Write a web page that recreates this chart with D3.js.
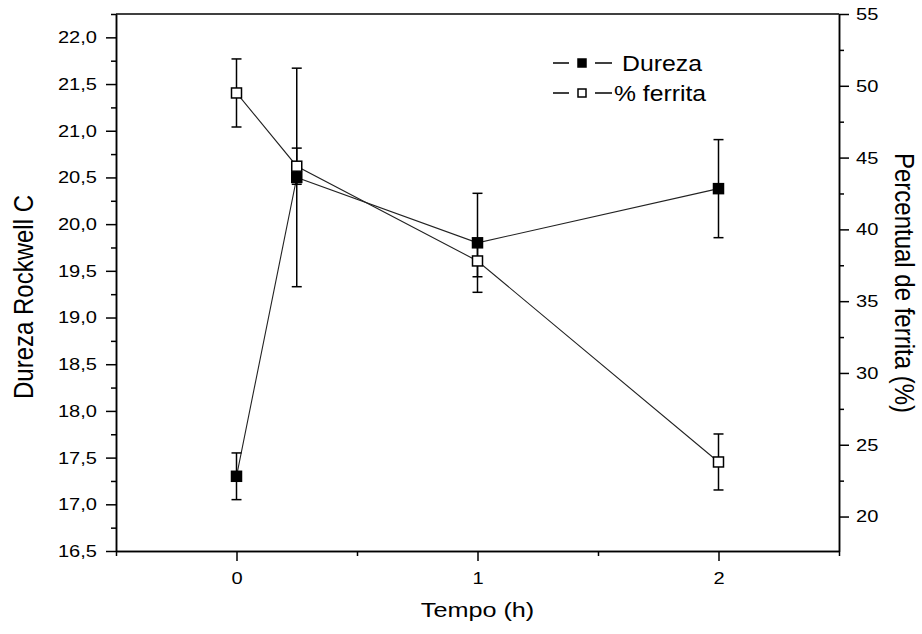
<!DOCTYPE html>
<html>
<head>
<meta charset="utf-8">
<script src="https://cdn.jsdelivr.net/npm/d3@7"></script>
<style>
  body { margin: 0; background: #fff; }
  text { font-family: Arial, "Liberation Sans", sans-serif; fill: #000; }
</style>
</head>
<body>
<script>
// dados
var tempo = [0, 0.25, 1, 2];
var dureza = [17.3, 20.5, 19.8, 20.38];
var durezaErr = [0.25, 1.17, 0.53, 0.525];
var ferrita = [49.5, 44.4, 37.8, 23.8];
var ferritaErr = [2.37, 1.26, 1.1, 1.95];

var xTicks = [0, 1, 2];
var xMinor = [-0.5, 0.5, 1.5, 2.5];
var yLeftTicks = [16.5, 17, 17.5, 18, 18.5, 19, 19.5, 20, 20.5, 21, 21.5, 22];
var yLeftMinor = [16.75, 17.25, 17.75, 18.25, 18.75, 19.25, 19.75, 20.25, 20.75, 21.25, 21.75, 22.25];
var yRightTicks = [20, 25, 30, 35, 40, 45, 50, 55];
var yRightMinor = [17.5, 22.5, 27.5, 32.5, 37.5, 42.5, 47.5, 52.5];

var _w = 922, _h = 634;
var pLeft = 116, pRight = 839, pTop = 14, pBottom = 551;

var svg = d3.select('body')
            .append('svg')
            .attr('width', _w)
            .attr('height', _h);

var x = d3.scaleLinear().domain([-0.5, 2.5]).range([pLeft, pRight]);
var yL = d3.scaleLinear().domain([16.5, 22.25]).range([pBottom, pTop]);
var yR = d3.scaleLinear().domain([17.6, 55]).range([pBottom, pTop]);

var br = d3.formatLocale({decimal: ',', thousands: '.', grouping: [3], currency: ['', '']});
var fmt1 = br.format('.1f');

// estica texto na horizontal (como no original)
function stretch(sel, k) {
    sel.each(function() {
        var w = this.getComputedTextLength();
        d3.select(this).attr('textLength', w * k).attr('lengthAdjust', 'spacingAndGlyphs');
    });
}

function styleAxis(g) {
    g.attr('font-size', 17).attr('font-family', 'Arial, "Liberation Sans", sans-serif');
    g.selectAll('path').attr('stroke', '#000').attr('stroke-width', 1.5);
    g.selectAll('line').attr('stroke', '#000').attr('stroke-width', 1.5);
    g.selectAll('text').attr('fill', '#000');
}

// eixo x
var gx = svg.append('g').attr('transform', 'translate(0,' + pBottom + ')')
    .call(d3.axisBottom(x).tickValues(xTicks).tickSize(10).tickSizeOuter(0).tickPadding(11).tickFormat(d3.format('d')));
styleAxis(gx);
stretch(gx.selectAll('text'), 1.18);
var gxm = svg.append('g').attr('transform', 'translate(0,' + pBottom + ')')
    .call(d3.axisBottom(x).tickValues(xMinor).tickSize(5).tickSizeOuter(0).tickFormat(''));
styleAxis(gxm);

// eixo y esquerdo
var gl = svg.append('g').attr('transform', 'translate(' + pLeft + ',0)')
    .call(d3.axisLeft(yL).tickValues(yLeftTicks).tickSize(10).tickSizeOuter(0).tickPadding(9).tickFormat(fmt1));
styleAxis(gl);
stretch(gl.selectAll('text'), 1.18);
var glm = svg.append('g').attr('transform', 'translate(' + pLeft + ',0)')
    .call(d3.axisLeft(yL).tickValues(yLeftMinor).tickSize(5).tickSizeOuter(0).tickFormat(''));
styleAxis(glm);

// eixo y direito
var gr = svg.append('g').attr('transform', 'translate(' + pRight + ',0)')
    .call(d3.axisRight(yR).tickValues(yRightTicks).tickSize(10).tickSizeOuter(0).tickPadding(7).tickFormat(d3.format('d')));
styleAxis(gr);
stretch(gr.selectAll('text'), 1.18);
var grm = svg.append('g').attr('transform', 'translate(' + pRight + ',0)')
    .call(d3.axisRight(yR).tickValues(yRightMinor.filter(function(v) { return v >= 17.6; })).tickSize(5).tickSizeOuter(0).tickFormat(''));
styleAxis(grm);

// linha de cima
svg.append('line')
    .attr('x1', pLeft).attr('x2', pRight)
    .attr('y1', pTop).attr('y2', pTop)
    .attr('stroke', '#000').attr('stroke-width', 1.5);

// titulos
var tx = svg.append('text')
    .attr('x', x(1)).attr('y', 617)
    .attr('text-anchor', 'middle')
    .attr('font-size', 21)
    .text('Tempo (h)');
stretch(tx, 1.2);

svg.append('text')
    .attr('transform', 'translate(33,297) rotate(-90) scale(1,1.18)')
    .attr('text-anchor', 'middle')
    .attr('font-size', 24)
    .text('Dureza Rockwell C');

svg.append('text')
    .attr('transform', 'translate(895,283) rotate(90) scale(1,1.18)')
    .attr('text-anchor', 'middle')
    .attr('font-size', 24)
    .text('Percentual de ferrita (%)');

// series
var pts = tempo.map(function(t, i) {
    return {t: t, d: dureza[i], de: durezaErr[i], f: ferrita[i], fe: ferritaErr[i]};
});

var lineD = d3.line().x(function(d) { return x(d.t); }).y(function(d) { return yL(d.d); });
var lineF = d3.line().x(function(d) { return x(d.t); }).y(function(d) { return yR(d.f); });

svg.append('path').datum(pts).attr('d', lineF)
    .attr('fill', 'none').attr('stroke', '#222').attr('stroke-width', 1.1);
svg.append('path').datum(pts).attr('d', lineD)
    .attr('fill', 'none').attr('stroke', '#222').attr('stroke-width', 1.1);

function errBars(yScale, key, errKey) {
    var g = svg.append('g').attr('stroke', '#000').attr('stroke-width', 1.5);
    g.selectAll('.v').data(pts).enter().append('line')
        .attr('x1', function(d) { return x(d.t); })
        .attr('x2', function(d) { return x(d.t); })
        .attr('y1', function(d) { return yScale(d[key] - d[errKey]); })
        .attr('y2', function(d) { return yScale(d[key] + d[errKey]); });
    g.selectAll('.top').data(pts).enter().append('line')
        .attr('x1', function(d) { return x(d.t) - 5; })
        .attr('x2', function(d) { return x(d.t) + 5; })
        .attr('y1', function(d) { return yScale(d[key] + d[errKey]); })
        .attr('y2', function(d) { return yScale(d[key] + d[errKey]); });
    g.selectAll('.bot').data(pts).enter().append('line')
        .attr('x1', function(d) { return x(d.t) - 5; })
        .attr('x2', function(d) { return x(d.t) + 5; })
        .attr('y1', function(d) { return yScale(d[key] - d[errKey]); })
        .attr('y2', function(d) { return yScale(d[key] - d[errKey]); });
}
errBars(yR, 'f', 'fe');
errBars(yL, 'd', 'de');

var ms = 10;
svg.selectAll('.mf').data(pts).enter().append('rect')
    .attr('x', function(d) { return x(d.t) - ms / 2; })
    .attr('y', function(d) { return yR(d.f) - ms / 2; })
    .attr('width', ms).attr('height', ms)
    .attr('fill', '#fff').attr('stroke', '#000').attr('stroke-width', 1.5);
svg.selectAll('.md').data(pts).enter().append('rect')
    .attr('x', function(d) { return x(d.t) - ms / 2; })
    .attr('y', function(d) { return yL(d.d) - ms / 2; })
    .attr('width', ms).attr('height', ms)
    .attr('fill', '#000').attr('stroke', '#000').attr('stroke-width', 1.5);

// legenda
var legend = [
    {label: 'Dureza', fill: '#000', y: 63, tx: 622, w: 80},
    {label: '% ferrita', fill: '#fff', y: 93, tx: 614, w: 92}
];
var lg = svg.append('g');
legend.forEach(function(l) {
    lg.append('line').attr('x1', 553).attr('x2', 569).attr('y1', l.y).attr('y2', l.y)
        .attr('stroke', '#000').attr('stroke-width', 1.5);
    lg.append('line').attr('x1', 595).attr('x2', 612).attr('y1', l.y).attr('y2', l.y)
        .attr('stroke', '#000').attr('stroke-width', 1.5);
    lg.append('rect').attr('x', 578).attr('y', l.y - 4).attr('width', 8).attr('height', 8)
        .attr('fill', l.fill).attr('stroke', '#000').attr('stroke-width', 1.5);
    lg.append('text').attr('x', l.tx).attr('y', l.y + 8)
        .attr('font-size', 22)
        .attr('textLength', l.w).attr('lengthAdjust', 'spacingAndGlyphs')
        .text(l.label);
});
</script>
</body>
</html>
